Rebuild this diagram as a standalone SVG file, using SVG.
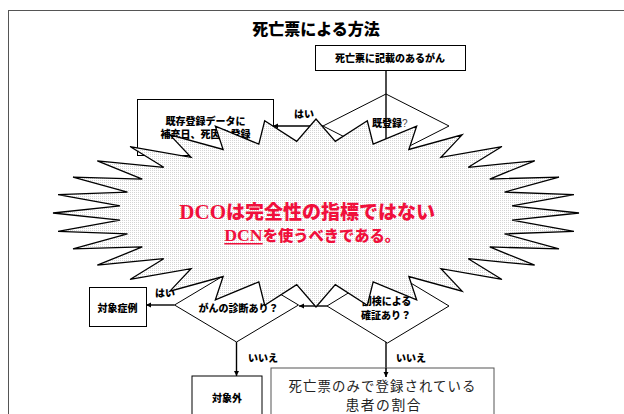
<svg xmlns="http://www.w3.org/2000/svg" width="624" height="414" viewBox="0 0 624 414">
<defs>
<style>
.box{fill:#fff;stroke:#000;stroke-width:1}
.dia{fill:#fff;stroke:#000;stroke-width:1}
.lbl{font-family:"Noto Sans CJK JP","Noto Sans CJK SC",sans-serif;font-weight:900;font-size:10px;fill:#000}
.con{fill:none;stroke:#000;stroke-width:1.4}
.red{fill:#f0103c;font-weight:900}
.big{font-family:"Noto Sans CJK JP",sans-serif;fill:#222}
</style>
<marker id="ah" markerUnits="userSpaceOnUse" markerWidth="6" markerHeight="6" refX="5" refY="2.5" orient="auto">
<path d="M0,0 L5,2.5 L0,5 z" fill="#000"/>
</marker>
<pattern id="dots" width="2" height="2" patternUnits="userSpaceOnUse">
<rect width="2" height="2" fill="#fff"/>
<rect width="1" height="1" fill="#d4d4d4"/>
</pattern>
</defs>
<rect width="624" height="414" fill="#fff"/>
<rect x="8.5" y="10.5" width="700" height="500" fill="none" stroke="#555" stroke-width="1"/>
<text x="316" y="35" text-anchor="middle" font-family="Noto Sans CJK JP, sans-serif" font-weight="900" font-size="16">死亡票による方法</text>

<g id="connectors">
<path class="con" d="M386,70 V377" marker-end="url(#ah)" stroke-width="1.6"/>
<path class="con" d="M323,126 H273" marker-end="url(#ah)"/>
<path class="con" d="M174.5,305 H146" marker-end="url(#ah)"/>
<path class="con" d="M327,306 H299" marker-end="url(#ah)"/>
<path class="con" d="M236.5,342 V376" marker-end="url(#ah)"/>
</g>

<g id="n-start">
<rect class="box" x="315.5" y="45.5" width="150" height="25"/>
<text class="lbl" x="390" y="61.5" text-anchor="middle" font-size="9.8">死亡票に記載のあるがん</text>
</g>

<g id="n-registered">
<polygon class="dia" points="386,94 449,126 386,158 323,126" fill-opacity="0"/>
<text class="lbl" x="372" y="127"><tspan>既登録</tspan><tspan font-weight="400" fill="#444" font-family="Liberation Sans, sans-serif">?</tspan></text>
</g>

<g id="n-update">
<rect class="box" x="137.5" y="99.5" width="136" height="56"/>
<text class="lbl" x="205.5" y="124.5" text-anchor="middle" font-size="9.6">既存登録データに</text>
<text class="lbl" x="205.5" y="138" text-anchor="middle" font-size="9.6">補充日、死因を登録</text>
</g>
<text class="lbl" x="304" y="118" text-anchor="middle" font-size="10.5">はい</text>

<g id="n-cancer-dx">
<polygon class="dia" points="236.5,268 298.5,305 236.5,342 174.5,305"/>
<text class="lbl" x="238.5" y="312" text-anchor="middle">がんの診断あり？</text>
</g>
<text class="lbl" x="165" y="297" text-anchor="middle">はい</text>

<g id="n-autopsy">
<polygon class="dia" points="387.5,269 449,306 387.5,343 327,306"/>
<text class="lbl" x="386.5" y="305" text-anchor="middle">剖検による</text>
<text class="lbl" x="386" y="318.5" text-anchor="middle">確証あり？</text>
</g>

<g id="n-case">
<rect class="box" x="89.5" y="287.5" width="57" height="39"/>
<text class="lbl" x="117.5" y="312" text-anchor="middle">対象症例</text>
</g>

<g id="n-excluded">
<rect class="box" x="192" y="376" width="70" height="60"/>
<text class="lbl" x="227" y="401.5" text-anchor="middle">対象外</text>
</g>
<text class="lbl" x="248" y="362" font-size="9.6">いいえ</text>
<text class="lbl" x="396" y="362" font-size="9.6">いいえ</text>

<g id="n-dco">
<rect x="271" y="368" width="223" height="60" fill="#fff" stroke="#555" stroke-width="1"/>
<path d="M386,368 V377" stroke="#000" stroke-width="1.6" marker-end="url(#ah)"/>
<text class="big" x="288.5" y="390.5" font-size="13.4" textLength="187" lengthAdjust="spacing">死亡票のみで登録されている</text>
<text class="big" x="345.5" y="409.5" font-size="13.8" textLength="75" lengthAdjust="spacing">患者の割合</text>
</g>

<g id="callout">
<polygon fill="url(#dots)" stroke="#000" stroke-width="1.3" stroke-linejoin="miter" points="579,213 512.05,205.94 573.95,194.66 504.52,192.1 558.98,177.03 489.74,179.06 534.68,160.78 468.28,167.32 501.97,146.53 440.97,157.34 462.11,134.84 408.87,149.5 416.64,126.16 373.18,144.1 367.31,120.81 335.31,141.35 316,119 296.69,141.35 264.69,120.81 258.82,144.1 215.36,126.16 223.13,149.5 169.89,134.84 191.03,157.34 130.03,146.53 163.72,167.32 97.32,160.78 142.26,179.06 73.02,177.03 127.48,192.1 58.05,194.66 119.95,205.94 53,213 119.95,220.06 58.05,231.34 127.48,233.9 73.02,248.97 142.26,246.94 97.32,265.22 163.72,258.68 130.03,279.47 191.03,268.66 169.89,291.16 223.13,276.5 215.36,299.84 258.82,281.9 264.69,305.19 296.69,284.65 316,307 335.31,284.65 367.31,305.19 373.18,281.9 416.64,299.84 408.87,276.5 462.11,291.16 440.97,268.66 501.97,279.47 468.28,258.68 534.68,265.22 489.74,246.94 558.98,248.97 504.52,233.9 573.95,231.34 512.05,220.06"/>
<text class="red" x="179.3" y="219"><tspan font-family="Liberation Serif, serif" font-weight="bold" font-size="21">DCO</tspan><tspan font-family="Noto Sans CJK JP, sans-serif" font-size="19">は完全性の指標ではない</tspan></text>
<text class="red" x="224.3" y="241"><tspan font-family="Liberation Serif, serif" font-weight="bold" font-size="17.7">DCN</tspan><tspan font-family="Noto Sans CJK JP, sans-serif" font-size="15.3">を使うべきである。</tspan></text>
<path d="M224.3,243.8 H262.7" stroke="#f0103c" stroke-width="1.6"/>
</g>
</svg>
